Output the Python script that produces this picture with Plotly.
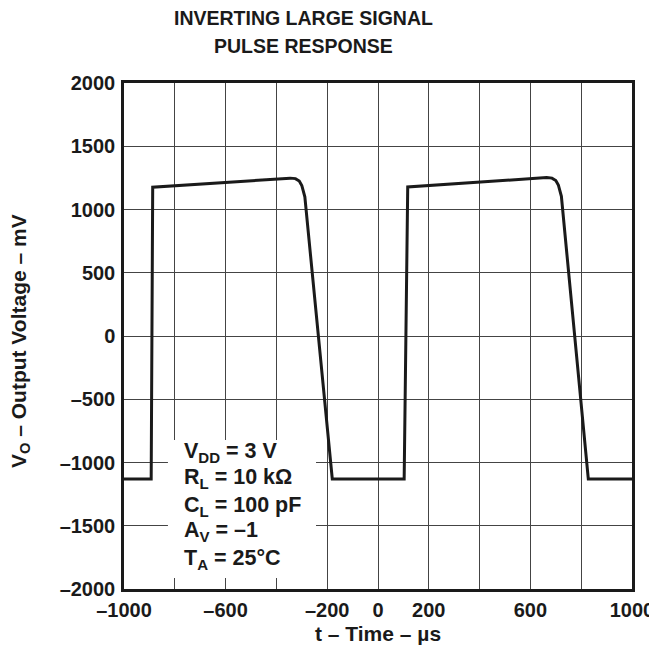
import plotly.graph_objects as go

# waveform (time in us, output in mV)
t_us = [-1000, -893, -887, -346, -325, -310, -300, -294, -288, -180,
        103, 117, 664, 685, 700, 710, 716, 722, 828, 1000]
vo_mv = [-1130, -1130, 1176, 1248, 1244, 1225, 1190, 1150, 1100, -1130,
         -1130, 1178, 1252, 1248, 1229, 1194, 1154, 1104, -1130, -1130]

x_tick_vals = [-1000, -800, -600, -400, -200, 0, 200, 400, 600, 800, 1000]
x_tick_text = ["–1000", "", "–600", "", "–200", "0", "200", "", "600", "", "1000"]
y_tick_vals = [-2000, -1500, -1000, -500, 0, 500, 1000, 1500, 2000]
y_tick_text = ["–2000", "–1500", "–1000", "–500", "0", "500", "1000", "1500", "2000"]

title_lines = ["INVERTING LARGE SIGNAL", "PULSE RESPONSE"]
cond_lines = ["V<sub>DD</sub> = 3 V", "R<sub>L</sub> = 10 kΩ", "C<sub>L</sub> = 100 pF",
              "A<sub>V</sub> = –1", "T<sub>A</sub> = 25°C"]
cond_y = [-917, -1130, -1344, -1549, -1763]

FONT = "Liberation Sans, Arial, sans-serif"
INK = "#1a1a1a"

fig = go.Figure()
fig.add_trace(go.Scatter(x=t_us, y=vo_mv, mode="lines",
                         line=dict(color=INK, width=3), hoverinfo="skip"))

# white box behind the test conditions
fig.add_shape(type="rect", xref="x", yref="y", x0=-827, x1=-244, y0=-1913, y1=-822,
              fillcolor="white", line=dict(width=0), layer="above")

for txt, yv in zip(cond_lines, cond_y):
    fig.add_annotation(x=-772, y=yv, xref="x", yref="y", text=txt, showarrow=False,
                       xanchor="left", yanchor="middle",
                       font=dict(family=FONT, size=21.5, color=INK, weight="bold"))

# two-line title, placed line by line
for txt, yp in zip(title_lines, [1.1285, 1.0731]):
    fig.add_annotation(x=0.3524, y=yp, xref="paper", yref="paper", text=txt,
                       showarrow=False, xanchor="center", yanchor="middle",
                       font=dict(family=FONT, size=19.5, color=INK, weight="bold"))

fig.add_annotation(x=-0.2047, y=0.49, xref="paper", yref="paper",
                   text="V<sub>O</sub> – Output Voltage – mV", textangle=-90,
                   showarrow=False, xanchor="center", yanchor="middle",
                   font=dict(family=FONT, size=21, color=INK, weight="bold"))
fig.add_annotation(x=0.5, y=-0.087, xref="paper", yref="paper",
                   text="t – Time – µs", showarrow=False,
                   xanchor="center", yanchor="middle",
                   font=dict(family=FONT, size=21, color=INK, weight="bold"))

# page body adds an 8px offset, margins account for it
fig.update_layout(
    width=657, height=656,
    margin=dict(l=116, r=33, t=75, b=75),
    paper_bgcolor="white", plot_bgcolor="white",
    showlegend=False,
)
fig.update_xaxes(range=[-1000, 1000], tickvals=x_tick_vals, ticktext=x_tick_text,
                 showgrid=True, gridcolor="#444444", gridwidth=1, zeroline=False,
                 showline=True, linecolor=INK, linewidth=2.5, mirror=True,
                 ticks="", ticklabelstandoff=1,
                 tickfont=dict(family=FONT, size=20, color=INK, weight="bold"))
fig.update_yaxes(range=[-2000, 2000], tickvals=y_tick_vals, ticktext=y_tick_text,
                 showgrid=True, gridcolor="#444444", gridwidth=1, zeroline=False,
                 showline=True, linecolor=INK, linewidth=2.5, mirror=True,
                 ticks="", ticklabelstandoff=2,
                 tickfont=dict(family=FONT, size=20, color=INK, weight="bold"))

fig.write_html("out.html")
